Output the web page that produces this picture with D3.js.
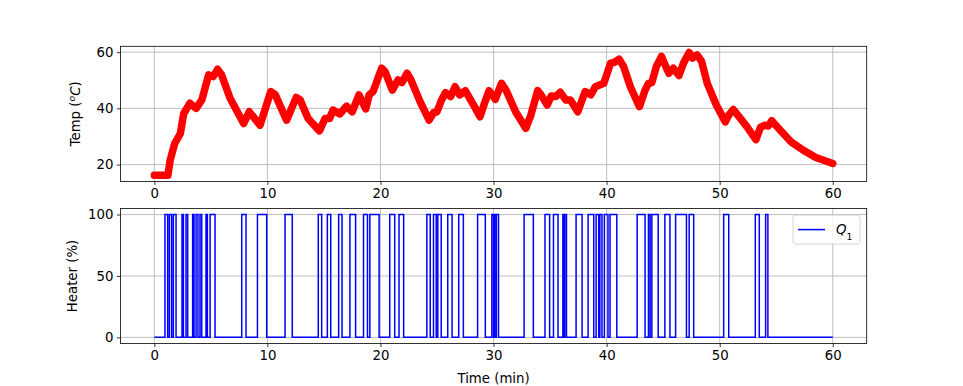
<!DOCTYPE html>
<html>
<head>
<meta charset="utf-8">
<script src="https://cdn.jsdelivr.net/npm/d3@7"></script>
<style>
  body { margin: 0; background: #fff; }
  svg { font-family: "DejaVu Sans", sans-serif; }
</style>
</head>
<body>
<div id="chart"></div>
<script>
// temperature: time (min) / temp (degC)
const tempTime = [0, 1.2, 1.4, 1.8, 2.3, 2.6, 3.15, 3.7, 4.2, 4.8, 5.2, 5.6, 5.95, 6.7, 7.9, 8.4, 9.35,
    10.3, 10.7, 11.7, 12.55, 12.9, 13.6, 14.6, 15.1, 15.5, 15.8, 16.4, 17, 17.5, 18.1, 18.7, 19.0, 19.35,
    20.1, 20.4, 21.05, 21.55, 21.9, 22.35, 22.7, 23.5, 24.3, 24.7, 25.0, 25.4, 25.75, 26.2, 26.6, 27,
    27.5, 28.15, 28.8, 29.2, 29.6, 30.15, 30.7, 31.1, 31.95, 32.85, 33.3, 33.9, 34.2, 34.75, 35.1, 35.5,
    35.9, 36.4, 36.8, 37.45, 38.1, 38.6, 39.0, 39.75, 40.35, 40.65, 41.1, 41.5, 42.1, 42.9, 43.4, 43.7,
    44, 44.4, 44.85, 45.3, 45.5, 45.9, 46.4, 46.8, 47.3, 47.6, 48, 48.4, 48.9, 49.7, 50.5, 50.8, 51.2,
    51.6, 52.4, 53.2, 53.6, 54, 54.3, 54.6, 55.3, 56.3, 57.4, 58.5, 60];
const tempValue = [16.2, 16.2, 21.5, 27.5, 31, 38.2, 41.8, 40, 43, 51.9, 51.3, 53.9, 51.9, 43.6, 34.6, 38.8, 34,
    46, 44.8, 35.8, 43.9, 43, 36.4, 32, 36.4, 36.4, 39.4, 38, 40.8, 38.8, 44.8, 39.8, 44.8, 46,
    54.3, 53.1, 46.5, 50.1, 49.2, 52.5, 50.1, 42.4, 35.8, 38.5, 38.8, 43, 45.6, 44.2, 47.7, 44.8,
    46.3, 41.8, 37, 41.8, 46.3, 43.2, 48.9, 46.5, 38.8, 32.9, 37.6, 46.3, 44.8, 41.2, 44.4, 44.2,
    45.7, 43, 43, 38.8, 46, 44.8, 47.7, 48.9, 56.1, 56.3, 57.5, 54.9, 47.7, 40.6, 46.5, 48.9,
    49.2, 54.9, 58.5, 54.3, 52.5, 54.3, 51.7, 56.1, 59.9, 57.9, 59, 56.7, 48.9, 41.2, 35.2, 37.6, 39.6,
    37.6, 33.5, 28.9, 33.2, 34, 33.7, 35.6, 32.5, 28.1, 25.1, 22.5, 20.4];

// heater switching times (min): 100 % from heaterOn[i] to heaterOff[i], 0 % otherwise
const heaterOn = [0.94, 1.33, 1.68, 2.45, 2.8, 3.39, 3.69, 4.04, 4.57, 4.93, 7.73, 9.12, 11.56, 14.5, 15.3,
    16.3, 17.3, 18.5, 19.06, 20.82, 21.64, 24.1, 24.69, 25.07, 25.95, 26.92, 28.59, 29.85, 30.06, 30.25,
    32.7, 34.55, 35.3, 36.13, 36.3, 37.3, 38.36, 39.07, 39.4, 39.8, 40.3, 42.7, 43.7, 44.0, 45.15, 46.1,
    47.3, 50.35, 53.15, 54.06];
const heaterOff = [1.18, 1.53, 1.92, 2.57, 2.95, 3.51, 3.86, 4.19, 4.69, 5.37, 8.11, 9.94, 12.2, 14.8, 15.6,
    16.6, 17.8, 18.85, 19.88, 21.26, 22.05, 24.4, 24.93, 25.37, 26.33, 27.33, 29.27, 30.0, 30.2, 30.44,
    33.52, 34.96, 35.7, 36.25, 36.45, 37.83, 38.86, 39.3, 39.59, 40.12, 40.9, 43.4, 43.85, 44.56, 45.6, 47.06,
    47.7, 50.8, 53.5, 54.26];
const tEnd = 60;

const xTicks = [0, 10, 20, 30, 40, 50, 60];
const tempTicks = [20, 40, 60];
const heaterTicks = [0, 50, 100];

const W = 963, H = 386;
const left = 120.4, right = 866.7;
const fontSize = 13.3;

const svg = d3.select("#chart").append("svg")
    .attr("width", W)
    .attr("height", H)
    .attr("viewBox", [0, 0, W, H]);

const temp = tempTime.map((t, i) => ({ t: t, v: tempValue[i] }));

const heater = [{ t: 0, v: 0 }];
heaterOn.forEach((t, i) => {
    heater.push({ t: t, v: 100 });
    heater.push({ t: heaterOff[i], v: 0 });
});
heater.push({ t: tEnd, v: 0 });

// matplotlib style 5% margins
function padded(lo, hi) {
    const m = (hi - lo) * 0.05;
    return [lo - m, hi + m];
}

const xScale = d3.scaleLinear()
    .domain(padded(0, tEnd)).range([left, right]);

function panel(top, bottom, yDomain, yTicks, label) {
    const y = d3.scaleLinear().domain(yDomain).range([bottom, top]);
    const g = svg.append("g");

    // grid
    g.append("g").selectAll("line").data(xTicks).join("line")
        .attr("x1", d => xScale(d)).attr("x2", d => xScale(d))
        .attr("y1", top).attr("y2", bottom)
        .attr("stroke", "#b0b0b0").attr("stroke-width", 0.8);
    g.append("g").selectAll("line").data(yTicks).join("line")
        .attr("x1", left).attr("x2", right)
        .attr("y1", d => y(d)).attr("y2", d => y(d))
        .attr("stroke", "#b0b0b0").attr("stroke-width", 0.8);

    const xAxis = d3.axisBottom(xScale).tickValues(xTicks)
        .tickSizeInner(3.5).tickSizeOuter(0).tickPadding(3.5);
    const yAxis = d3.axisLeft(y).tickValues(yTicks)
        .tickSizeInner(3.5).tickSizeOuter(0).tickPadding(3.5);

    const xg = svg.append("g")
        .attr("transform", `translate(0, ${bottom})`)
        .call(xAxis);
    const yg = svg.append("g")
        .attr("transform", `translate(${left}, 0)`)
        .call(yAxis);
    [xg, yg].forEach(a => {
        a.select(".domain").remove();
        a.selectAll("line").attr("stroke", "#000").attr("stroke-width", 0.8);
        a.selectAll("text")
            .attr("font-family", "DejaVu Sans")
            .attr("font-size", fontSize)
            .attr("fill", "#000");
    });

    const lbl = svg.append("text")
        .attr("transform", `translate(${label.x}, ${(top + bottom) / 2}) rotate(-90)`)
        .attr("text-anchor", "middle")
        .attr("font-size", fontSize);
    label.parts.forEach(p => {
        const ts = lbl.append("tspan").text(p.text);
        if (p.italic) ts.attr("font-style", "italic");
        if (p.sup) ts.attr("baseline-shift", "super").attr("font-size", fontSize * 0.7);
    });

    return { g, y, top, bottom };
}

const pTemp = panel(46.3, 181.4, padded(d3.min(tempValue), d3.max(tempValue)), tempTicks,
    { x: 80, parts: [{ text: "Temp (" }, { text: "o", italic: true, sup: true }, { text: "C", italic: true }, { text: ")" }] });
const pHeat = panel(208.4, 343.5, padded(0, 100), heaterTicks,
    { x: 77, parts: [{ text: "Heater (%)" }] });

const lineTemp = d3.line()
    .x(d => xScale(d.t))
    .y(d => pTemp.y(d.v));
pTemp.g.append("path")
    .datum(temp)
    .attr("d", lineTemp)
    .attr("fill", "none")
    .attr("stroke", "#ff0000")
    .attr("stroke-width", 7.5)
    .attr("stroke-linejoin", "round")
    .attr("stroke-linecap", "round");

const lineHeat = d3.line()
    .x(d => xScale(d.t))
    .y(d => pHeat.y(d.v))
    .curve(d3.curveStepAfter);
pHeat.g.append("path")
    .datum(heater)
    .attr("d", lineHeat)
    .attr("fill", "none")
    .attr("stroke", "#0000ff")
    .attr("stroke-width", 1.5);

// frames on top
[pTemp, pHeat].forEach(p => {
    svg.append("rect")
        .attr("x", left).attr("y", p.top)
        .attr("width", right - left).attr("height", p.bottom - p.top)
        .attr("fill", "none").attr("stroke", "#000").attr("stroke-width", 0.8);
});

svg.append("text")
    .attr("x", (left + right) / 2)
    .attr("y", 383)
    .attr("text-anchor", "middle")
    .attr("font-size", fontSize)
    .text("Time (min)");

// legend
const lg = svg.append("g").attr("transform", `translate(${right - 6.7}, ${pHeat.top + 6.7})`);
lg.append("rect")
    .attr("x", -67).attr("y", 0).attr("width", 67).attr("height", 29)
    .attr("rx", 3)
    .attr("fill", "#fff").attr("fill-opacity", 0.8)
    .attr("stroke", "#cccccc").attr("stroke-width", 0.8);
lg.append("line")
    .attr("x1", -62).attr("x2", -35).attr("y1", 14.5).attr("y2", 14.5)
    .attr("stroke", "#0000ff").attr("stroke-width", 1.5);
const lt = lg.append("text")
    .attr("x", -24).attr("y", 19)
    .attr("font-size", fontSize);
lt.append("tspan").attr("font-style", "italic").text("Q");
lt.append("tspan").attr("baseline-shift", "sub").attr("font-size", fontSize * 0.7).text("1");
</script>
</body>
</html>
